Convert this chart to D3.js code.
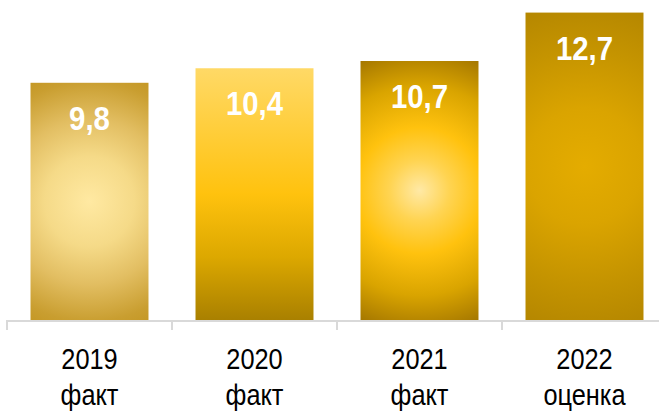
<!DOCTYPE html>
<html>
<head>
<meta charset="utf-8">
<script src="https://cdn.jsdelivr.net/npm/d3@7"></script>
<style>
  html, body { margin: 0; padding: 0; background: #fff; }
  svg { display: block; }
  .narrow { font-family: "Liberation Sans Narrow", "Arial Narrow", "Liberation Sans", Arial, sans-serif; }
</style>
</head>
<body>
<svg id="chart" width="659" height="413"></svg>
<script>
const years = ["2019", "2020", "2021", "2022"];
const subLabels = ["факт", "факт", "факт", "оценка"];
const values = [9.8, 10.4, 10.7, 12.7];
const valueLabels = ["9,8", "10,4", "10,7", "12,7"];

const W = 659, H = 413;
const svg = d3.select("#chart");

const x = d3.scaleBand().domain(years).range([7, 667]).paddingInner(0.285).paddingOuter(0.1425);
const y = d3.scaleLinear().domain([0, 13.22]).range([320, 0]);

const defs = svg.append("defs");

const gradSpecs = [
  { type: "radial", r: 150, stops: [[0, "#FFE9A2"], [0.3, "#F5DA88"], [0.55, "#E2BE62"], [0.8, "#C99E30"], [1, "#BF9018"]] },
  { type: "linear", stops: [[0, "#FFD966"], [0.5, "#FFC20E"], [0.75, "#DCA800"], [1, "#A98000"]] },
  { type: "radial", r: 150, stops: [[0, "#FFE9A6"], [0.2, "#FFD452"], [0.42, "#FFC20E"], [0.7, "#D9A400"], [1, "#9A6E00"]] },
  { type: "radial", r: 165, stops: [[0, "#E4AC00"], [0.35, "#DAA400"], [0.7, "#C59400"], [1, "#B58700"]] }
];

years.forEach((yr, i) => {
  const spec = gradSpecs[i];
  const cx = x(yr) + x.bandwidth() / 2;
  const cy = (y(values[i]) + y(0)) / 2;
  let g;
  if (spec.type === "radial") {
    g = defs.append("radialGradient").attr("id", "g" + i)
      .attr("gradientUnits", "userSpaceOnUse")
      .attr("cx", cx).attr("cy", cy).attr("r", spec.r);
  } else {
    g = defs.append("linearGradient").attr("id", "g" + i)
      .attr("x1", 0).attr("y1", 0).attr("x2", 0).attr("y2", 1);
  }
  spec.stops.forEach(s => g.append("stop").attr("offset", s[0]).attr("stop-color", s[1]));
});

// bars
svg.append("g").selectAll("rect").data(values).join("rect")
  .attr("x", (d, i) => x(years[i]))
  .attr("y", d => y(d))
  .attr("width", x.bandwidth())
  .attr("height", d => y(0) - y(d))
  .attr("fill", (d, i) => `url(#g${i})`);

// axis line and ticks
const axisG = svg.append("g");
axisG.append("line")
  .attr("x1", x.range()[0]).attr("x2", W)
  .attr("y1", y(0) + 1).attr("y2", y(0) + 1)
  .attr("stroke", "#d9d9d9").attr("stroke-width", 2);
const tickXs = years.map(yr => x(yr) - x.step() * x.paddingInner() / 2).concat([x.range()[1]]);
tickXs.forEach(tx => {
  axisG.append("line")
    .attr("x1", tx).attr("x2", tx)
    .attr("y1", y(0)).attr("y2", y(0) + 10)
    .attr("stroke", "#d9d9d9").attr("stroke-width", 2);
});

// value labels (condensed via horizontal scale)
svg.append("g").selectAll("text").data(values).join("text")
  .attr("class", "narrow")
  .attr("transform", (d, i) => `translate(${x(years[i]) + x.bandwidth() / 2},${y(d) + 47}) scale(0.89,1)`)
  .attr("text-anchor", "middle")
  .attr("fill", "#fff")
  .attr("font-weight", "bold")
  .attr("font-size", 33)
  .text((d, i) => valueLabels[i]);

// category labels
const cat = svg.append("g");
years.forEach((yr, i) => {
  const cx = x(yr) + x.bandwidth() / 2;
  cat.append("text").attr("class", "narrow")
    .attr("transform", `translate(${cx},369) scale(0.86,1)`)
    .attr("text-anchor", "middle").attr("fill", "#000").attr("font-size", 29.5)
    .text(yr);
  cat.append("text").attr("class", "narrow")
    .attr("transform", `translate(${cx},405) scale(0.86,1)`)
    .attr("text-anchor", "middle").attr("fill", "#000").attr("font-size", 29.5)
    .text(subLabels[i]);
});
</script>
</body>
</html>
